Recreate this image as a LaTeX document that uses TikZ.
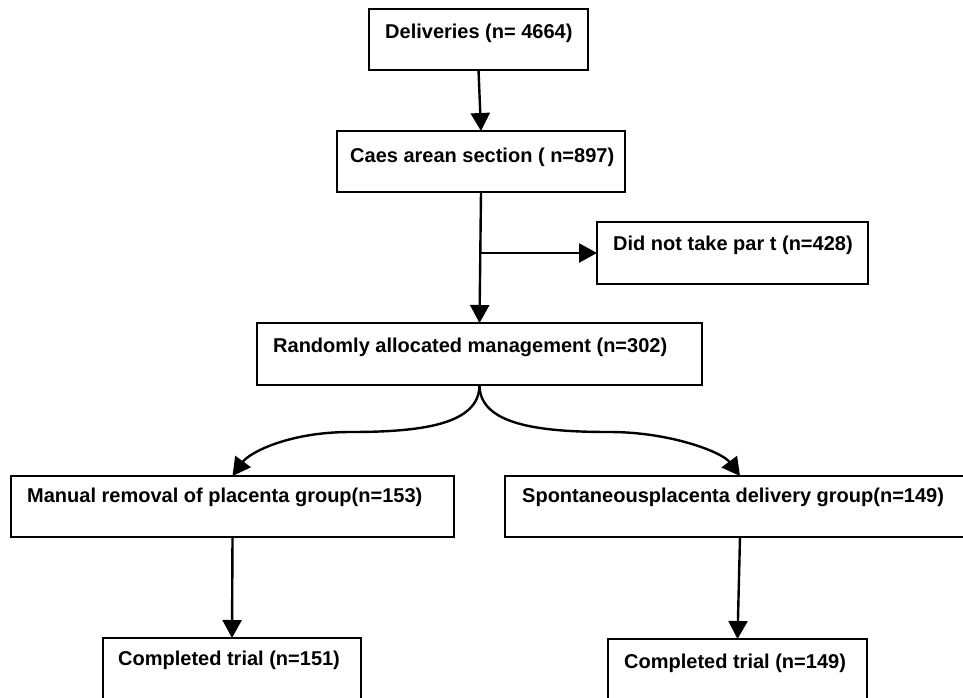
\documentclass[tikz,border=0pt]{standalone}
\usepackage{fontspec}
\setmainfont{Liberation Sans}
\usetikzlibrary{arrows.meta,calc}
\begin{document}
\begin{tikzpicture}[x=1pt,y=-1pt,
  box/.style={draw=black, line width=2.8pt, fill=none, inner sep=0pt, outer sep=0pt, anchor=north west},
  txt/.style={anchor=base west, inner sep=0pt, font=\fontsize{20}{23}\selectfont\bfseries},
  arr/.style={line width=2.4pt, -{Triangle[length=18pt,width=19pt]}}]
\useasboundingbox (0,0) rectangle (963,697);
% boxes
\node[box, minimum width=219pt, minimum height=61pt] (d) at (369,9) {};
\node[box, minimum width=288pt, minimum height=61pt] (c) at (337,131) {};
\node[box, minimum width=271pt, minimum height=62pt] (n) at (597,222) {};
\node[box, minimum width=445pt, minimum height=62pt] (r) at (257,323) {};
\node[box, minimum width=443pt, minimum height=61pt] (m) at (11,476) {};
\node[box, minimum width=470pt, minimum height=61pt] (s) at (505,476) {};
\node[box, minimum width=258pt, minimum height=80pt] (c1) at (103,638) {};
\node[box, minimum width=259pt, minimum height=80pt] (c2) at (608,639) {};
% texts
\node[txt] (td) at (385,38) {Deliveries (n= 4664)};
\node[txt] (tc) at (350,162) {Caes arean section ( n=897)};
\node[txt] (tn) at (613,250) {Did not take par t (n=428)};
\node[txt] (tr) at (273,352) {Randomly allocated management (n=302)};
\node[txt] (tm) at (27,502) {Manual removal of placenta group(n=153)};
\node[txt] (ts) at (522,502) {Spontaneousplacenta delivery group(n=149)};
\node[txt] (tc1) at (118,665) {Completed trial (n=151)};
\node[txt] (tc2) at (624,668) {Completed trial (n=149)};
% connectors
\draw[arr] (d.south) -- (c.north);
\draw[arr] (c.south) -- (r.north);
\draw[arr] (c.south |- n.west) -- (n.west);
\draw[arr] (r.south) .. controls ($(r.south)+(0,40)$) and (420,432) .. (350,432)
  .. controls (290,432) and (250,452) .. (m.north);
\draw[arr] (r.south) .. controls ($(r.south)+(0,40)$) and (540,432) .. (610,432)
  .. controls (670,432) and (722,452) .. (s.north);
\draw[arr] (m.south) -- (c1.north);
\draw[arr] (s.south) -- (c2.north);
\end{tikzpicture}
\end{document}
